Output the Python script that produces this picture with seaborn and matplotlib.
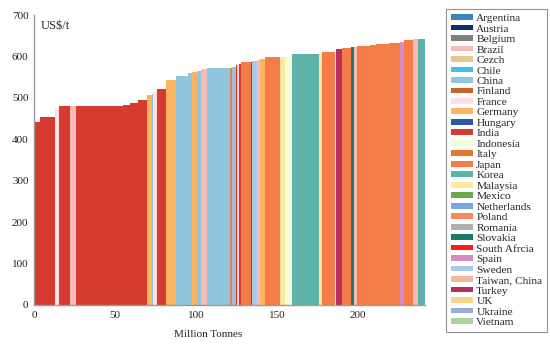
import numpy as np
import matplotlib
matplotlib.use("Agg")
import matplotlib.pyplot as plt
import seaborn as sns
from matplotlib.patches import Patch

legend_names = ["Argentina", "Austria", "Belgium", "Brazil", "Cezch", "Chile", "China",
                "Finland", "France", "Germany", "Hungary", "India", "Indonesia", "Italy",
                "Japan", "Korea", "Malaysia", "Mexico", "Netherlands", "Poland", "Romania",
                "Slovakia", "South Afrcia", "Spain", "Sweden", "Taiwan, China", "Turkey",
                "UK", "Ukraine", "Vietnam"]
legend_colors = ["#3a84c4", "#0b2e6e", "#7f7f7f", "#f4bcb4", "#e6c98a", "#40c0ea", "#92c5de",
                 "#c8642a", "#fbe0e6", "#fdb462", "#2c5aa8", "#d73a2e", "#f6fbd8", "#e07b30",
                 "#f57b47", "#5db3a7", "#fde9a0", "#6aa84f", "#7aa8dc", "#f38a5e", "#b0b0b0",
                 "#1b7a6e", "#ff1a1a", "#d58cc5", "#a9c8ea", "#f4b8a0", "#b5305e",
                 "#fdd08a", "#9aaedc", "#a8d5a0"]
palette = dict(zip(legend_names, legend_colors))

# cost curve segments
seg_country = ["India", "India", "France", "India", "Brazil", "India", "India", "India", "India",
               "Germany", "China", "France", "India", "Germany", "China", "China", "Germany",
               "China", "Brazil", "China", "Japan", "China", "South Afrcia", "France", "India",
               "Japan", "Turkey", "Sweden", "Brazil", "Germany", "Japan", "Malaysia", "Indonesia",
               "Korea", "Malaysia", "Japan", "France", "Turkey", "Japan", "Slovakia", "Brazil",
               "Japan", "Japan", "Japan", "Japan", "Spain", "Japan", "Brazil", "Korea"]
seg_width = [3.7, 9.3, 2.4, 6.6, 3.9, 29.1, 4.0, 5.0, 6.0,
             2.6, 1.1, 2.0, 5.6, 6.4, 7.3, 2.3, 3.1,
             2.6, 3.6, 14.4, 1.4, 2.3, 0.8, 0.8, 1.7,
             6.0, 0.8, 2.7, 2.0, 3.1, 9.3, 3.1, 4.5,
             16.6, 1.4, 8.3, 0.6, 3.5, 5.6, 2.0, 2.1,
             7.8, 3.7, 8.2, 6.6, 2.5, 5.7, 2.7, 4.7]
seg_cost = [442, 454, 473, 481, 481, 481, 484, 488, 496,
            507, 509, 515, 522, 542, 554, 560, 563,
            566, 570, 572, 572, 575, 579, 580, 582,
            586, 586, 589, 591, 594, 598, 598, 598,
            605, 609, 611, 612, 618, 620, 622, 623,
            625, 627, 629, 633, 635, 640, 643, 643]

sns.set_theme(style="white")
plt.rcParams["font.family"] = ["Liberation Serif", "DejaVu Serif"]

widths = np.array(seg_width)
lefts = np.concatenate([[0], np.cumsum(widths)[:-1]])

fig = plt.figure(figsize=(5.5, 3.46), dpi=100)
ax = fig.add_axes([0.062, 0.1185, 0.711, 0.838])
ax.bar(lefts, seg_cost, width=widths, align="edge",
       color=[palette[c] for c in seg_country], linewidth=0)

ax.set_xlim(0, widths.sum())
ax.set_ylim(0, 700)
ax.set_yticks(np.arange(0, 701, 100))
ax.set_xticks([0, 50, 100, 150, 200])
ax.tick_params(axis="both", length=0, labelsize=8, colors="#222222", pad=4)
for s in ["top", "right"]:
    ax.spines[s].set_visible(False)
for s in ["left", "bottom"]:
    ax.spines[s].set_color("#9a9a9a")
    ax.spines[s].set_linewidth(1.0)

ax.text(0.018, 0.962, "US$/t", transform=ax.transAxes, fontsize=9, va="center", ha="left")
ax.set_xlabel("Million Tonnes", fontsize=8)
ax.xaxis.set_label_coords(0.445, -0.085)

handles = [Patch(facecolor=palette[n], edgecolor="none", label=n) for n in legend_names]
leg = fig.legend(handles=handles, loc="upper left", bbox_to_anchor=(0.811, 0.974),
                 fontsize=8.2, frameon=True, fancybox=False, borderaxespad=0,
                 handlelength=1.95, handleheight=0.4, labelspacing=0.13,
                 handletextpad=0.25, borderpad=0.45)
leg.get_frame().set_edgecolor("#777777")
leg.get_frame().set_linewidth(0.8)

fig.savefig("out.png", dpi=100)
